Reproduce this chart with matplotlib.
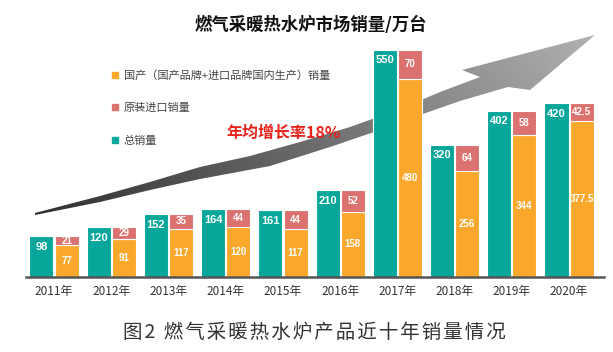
import numpy as np
import matplotlib
matplotlib.use("Agg")
import matplotlib.pyplot as plt
from matplotlib.patches import Polygon
from matplotlib.lines import Line2D

plt.rcParams['font.family'] = ['Noto Sans CJK SC', 'DejaVu Sans']

# 数据
anos = ['2011年', '2012年', '2013年', '2014年', '2015年',
        '2016年', '2017年', '2018年', '2019年', '2020年']
total = [98, 120, 152, 164, 161, 210, 550, 320, 402, 420]
domestico = [77, 91, 117, 120, 117, 158, 480, 256, 344, 377.5]
importado = [21, 29, 35, 44, 44, 52, 70, 64, 58, 42.5]

cor_total = '#07a69b'
cor_dom = '#f9a82c'
cor_imp = '#db7270'

fig = plt.figure(figsize=(6.13, 3.52), dpi=100)

# camada de fundo para a seta (coordenadas em pixels da figura)
ax_bg = fig.add_axes([0, 0, 1, 1], zorder=0)
ax_bg.set_xlim(0, 613)
ax_bg.set_ylim(352, 0)
ax_bg.axis('off')

superior = [(35, 213), (100, 196), (150, 182), (200, 167), (250, 156), (300, 142),
            (350, 127), (400, 109), (440, 92), (480, 77), (462, 70), (595, 35)]
inferior = [(530, 90), (508, 87), (460, 101), (420, 115), (380, 130), (330, 147),
            (270, 166), (200, 179), (150, 190), (100, 202), (35, 215)]
seta = Polygon(superior + inferior, closed=True, facecolor='none', edgecolor='none')
ax_bg.add_patch(seta)
xx, yy = np.meshgrid(np.linspace(0, 1, 300), np.linspace(0, 1, 200))
grad = 0.30 + 0.40 * xx - 0.12 * yy
img = np.clip(np.dstack([grad, grad, grad]), 0, 1)
im = ax_bg.imshow(img, extent=(30, 600, 220, 30), aspect='auto', interpolation='bilinear')
im.set_clip_path(seta)

# eixo principal
ax = fig.add_axes([26 / 613, 75 / 352, 578 / 613, 248 / 352], zorder=1)
ax.set_facecolor('none')
x = np.arange(len(anos))
w = 0.42
ax.bar(x - 0.22, total, w, color=cor_total, edgecolor='white', linewidth=0.8)
ax.bar(x + 0.22, domestico, w, color=cor_dom, edgecolor='white', linewidth=0.8)
ax.bar(x + 0.22, importado, w, bottom=domestico, color=cor_imp, edgecolor='white', linewidth=0.8)

for i in range(len(anos)):
    ax.annotate(str(total[i]), (x[i] - 0.22, total[i]), xytext=(0, -7.5),
                textcoords='offset points', ha='center', va='center',
                color='white', fontsize=8, fontweight='bold', family='Liberation Sans')
    ax.text(x[i] + 0.22, domestico[i] + importado[i] / 2, f'{importado[i]:g}',
            ha='center', va='center', color='white', fontsize=7, family='Liberation Sans',
            fontweight='bold')
    ax.text(x[i] + 0.22, domestico[i] / 2, f'{domestico[i]:g}',
            ha='center', va='center', color='white', fontsize=7, family='Liberation Sans',
            fontweight='bold')

ax.set_xlim(-0.49, 9.61)
ax.set_ylim(0, 600)
ax.set_xticks(x)
ax.set_xticklabels(anos, fontsize=8.5, color='#333333')
ax.tick_params(axis='x', length=0, pad=6)
ax.set_yticks([])
for lado in ['top', 'right', 'left']:
    ax.spines[lado].set_visible(False)
ax.spines['bottom'].set_color('#555555')
ax.spines['bottom'].set_linewidth(1.8)

# legenda
handles = [
    Line2D([], [], marker='s', linestyle='', color=cor_dom, markersize=5),
    Line2D([], [], marker='s', linestyle='', color=cor_imp, markersize=5),
    Line2D([], [], marker='s', linestyle='', color=cor_total, markersize=5),
]
rotulos = ['国产（国产品牌+进口品牌国内生产）销量', '原装进口销量', '总销量']
leg = fig.legend(handles, rotulos, loc='upper left', bbox_to_anchor=(105 / 613, 1 - 66 / 352),
                 frameon=False, fontsize=8, labelspacing=2.0, handletextpad=0.3,
                 handlelength=1.0, borderaxespad=0)
for t in leg.get_texts():
    t.set_color('#444444')

fig.text(226 / 613, 1 - 133 / 352, '年均增长率18%', color='#e8231c', fontsize=11.5,
         fontweight='bold', va='center', ha='left')

fig.text(311 / 613, 1 - 25 / 352, '燃气采暖热水炉市场销量/万台', fontsize=12.5,
         fontweight='bold', ha='center', va='center', color='#111111')
legenda_fig = '图2 燃气采暖热水炉产品近十年销量情况'
fig.text(123 / 613, 1 - 332 / 352, '\u200a'.join(legenda_fig), fontsize=14,
         ha='left', va='center', color='#333333')

fig.savefig('out.png', dpi=100)
